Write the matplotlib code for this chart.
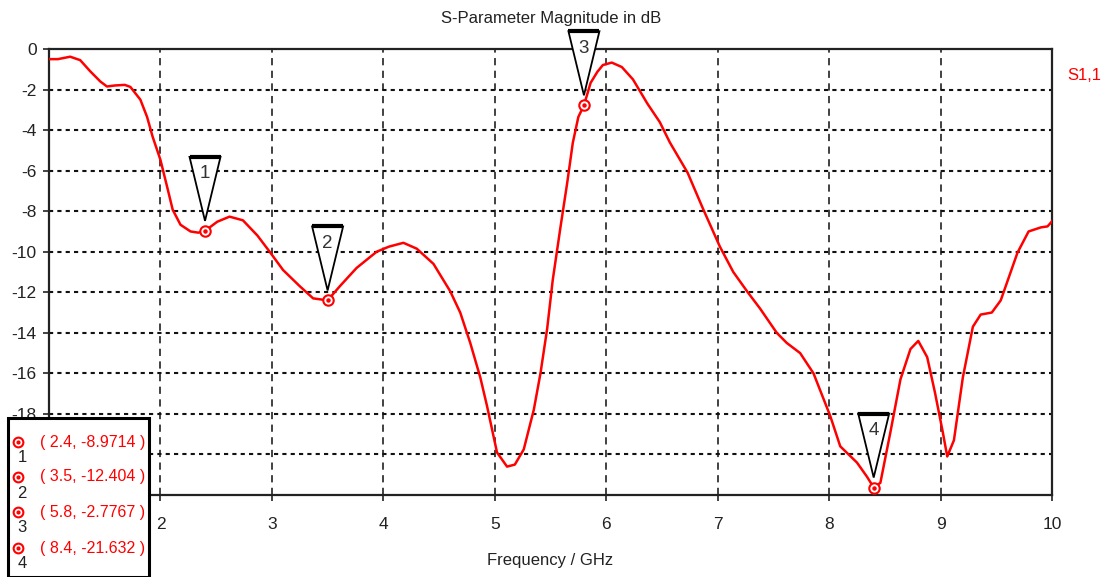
import matplotlib
matplotlib.use("Agg")
import matplotlib.pyplot as plt
from matplotlib.patches import Polygon, Rectangle
from matplotlib.transforms import ScaledTranslation
from matplotlib.lines import Line2D

plt.rcParams['font.family'] = ['Liberation Sans', 'DejaVu Sans']

freq = [1.00, 1.08, 1.19, 1.28, 1.37, 1.46, 1.52, 1.59, 1.68, 1.73, 1.82, 1.88,
        1.93, 2.00, 2.06, 2.11, 2.18, 2.27, 2.34, 2.40, 2.51, 2.62, 2.74, 2.87,
        2.98, 3.10, 3.25, 3.37, 3.50, 3.61, 3.76, 3.94, 4.05, 4.18, 4.30, 4.45,
        4.60, 4.69, 4.78, 4.87, 4.93, 5.02, 5.11, 5.18, 5.26, 5.35, 5.41, 5.47,
        5.52, 5.59, 5.65, 5.70, 5.75, 5.80, 5.86, 5.92, 5.97, 6.05, 6.14, 6.24,
        6.37, 6.48, 6.57, 6.73, 6.87, 7.02, 7.14, 7.27, 7.38, 7.53, 7.62, 7.74,
        7.86, 8.01, 8.10, 8.25, 8.34, 8.40, 8.46, 8.55, 8.64, 8.73, 8.80, 8.88,
        8.95, 9.02, 9.06, 9.12, 9.20, 9.29, 9.36, 9.46, 9.54, 9.69, 9.79, 9.90,
        9.96, 10.00]
s11_db = [-0.50, -0.50, -0.38, -0.55, -1.10, -1.60, -1.85, -1.80, -1.77, -1.87, -2.50, -3.35,
          -4.33, -5.47, -6.80, -7.93, -8.67, -9.00, -9.06, -8.97, -8.52, -8.27, -8.45, -9.20,
          -10.00, -10.90, -11.70, -12.30, -12.40, -11.70, -10.80, -10.00, -9.75, -9.56, -9.85, -10.60,
          -11.95, -13.00, -14.50, -16.20, -17.60, -19.90, -20.60, -20.50, -19.75, -17.80, -16.00, -13.80,
          -11.40, -8.77, -6.60, -4.63, -3.35, -2.78, -1.67, -1.13, -0.79, -0.67, -0.89, -1.50,
          -2.70, -3.60, -4.60, -6.10, -7.90, -9.75, -11.00, -12.00, -12.80, -14.00, -14.50, -15.00,
          -16.00, -18.10, -19.60, -20.40, -21.10, -21.63, -21.40, -18.90, -16.30, -14.80, -14.40, -15.20,
          -16.95, -18.90, -20.10, -19.30, -16.20, -13.70, -13.10, -13.00, -12.40, -10.05, -9.00, -8.80,
          -8.75, -8.50]

marker_ids = ["1", "2", "3", "4"]
marker_f = [2.4, 3.5, 5.8, 8.4]
marker_db = [-8.9714, -12.404, -2.7767, -21.632]
marker_labels = ["( 2.4, -8.9714 )", "( 3.5, -12.404 )", "( 5.8, -2.7767 )", "( 8.4, -21.632 )"]

xticks = [2, 3, 4, 5, 6, 7, 8, 9, 10]
yticks = [0, -2, -4, -6, -8, -10, -12, -14, -16, -18, -20, -22]
# -20 and -22 labels are hidden behind the marker box in the original
ytick_labels = ["0", "-2", "-4", "-6", "-8", "-10", "-12", "-14", "-16", "-18", "", ""]

FS = 12.5
W, H = 1103, 577
fig = plt.figure(figsize=(W / 100, H / 100), dpi=100)
ax = fig.add_axes([49 / W, 1 - 495 / H, (1052 - 49) / W, (495 - 49) / H])

ax.set_xlim(1, 10)
ax.set_ylim(-22, 0)
ax.set_xticks(xticks)
ax.set_yticks(yticks)
ax.set_xticklabels([str(t) for t in xticks])
ax.set_yticklabels(ytick_labels)
ax.tick_params(axis='both', labelsize=FS, length=4, width=1.2, color='#222222',
               direction='out', labelcolor='#222222')
ax.tick_params(axis='x', pad=12)
ax.tick_params(axis='y', pad=5)

for xv in xticks[:-1]:
    ax.axvline(xv, color='#333333', lw=1.3, ls=(0, (4, 3)), zorder=1)
for yv in yticks[1:-1]:
    ax.axhline(yv, color='#111111', lw=1.5, ls=(0, (2, 2)), zorder=1)

for sp in ax.spines.values():
    sp.set_linewidth(1.6)
    sp.set_color('#222222')

ax.plot(freq, s11_db, color='#ff0000', lw=1.8, zorder=3)

# markers
ax.plot(marker_f, marker_db, ls='none', marker='o', ms=7.5, mfc='white', mec='#ff0000', mew=1.5, zorder=4, clip_on=False)
ax.plot(marker_f, marker_db, ls='none', marker='o', ms=2.2, mfc='#ff0000', mec='#ff0000', zorder=5, clip_on=False)

# triangle flags
for mid, fx, fy in zip(marker_ids, marker_f, marker_db):
    tr = fig.dpi_scale_trans + ScaledTranslation(fx, fy, ax.transData)
    px = 1 / 100.0
    tip = (0, 10 * px)
    tl = (-15.5 * px, 74 * px)
    trr = (15.5 * px, 74 * px)
    poly = Polygon([tip, tl, trr], closed=True, facecolor='white', edgecolor='black', lw=1.3,
                   transform=tr, zorder=6, clip_on=False)
    ax.add_patch(poly)
    ax.add_line(Line2D([-15.5 * px, 15.5 * px], [74 * px, 74 * px], color='black', lw=3,
                       transform=tr, zorder=7, clip_on=False, solid_capstyle='butt'))
    ax.text(0, 57 * px, mid, transform=tr, ha='center', va='center', fontsize=FS + 1,
            color='#333333', zorder=8, clip_on=False)

fig.text(551 / W, 1 - 18 / H, "S-Parameter Magnitude in dB", ha='center', va='center', fontsize=12, color='#222222')
fig.text(550 / W, 1 - 561 / H, "Frequency / GHz", ha='center', va='center', fontsize=12, color='#222222')
fig.text(1067 / W, 1 - 75 / H, "S1,1", ha='left', va='center', fontsize=12, color='#ff0000')

# marker legend box
box = Rectangle((8 / W, 0), (149 - 8) / W, (H - 418) / H, transform=fig.transFigure,
                facecolor='white', edgecolor='black', lw=2.2, zorder=20, clip_on=False)
fig.add_artist(box)
row_y = [442, 477, 512, 548]
num_y = [458, 493, 528, 563]
for mid, lab, ry, ny in zip(marker_ids, marker_labels, row_y, num_y):
    fig.add_artist(Line2D([18 / W], [1 - ry / H], transform=fig.transFigure, ls='none', marker='o',
                          ms=7, mfc='white', mec='#ff0000', mew=1.5, zorder=21))
    fig.add_artist(Line2D([18 / W], [1 - ry / H], transform=fig.transFigure, ls='none', marker='o',
                          ms=2, mfc='#ff0000', mec='#ff0000', zorder=22))
    fig.text(40 / W, 1 - ry / H, lab, ha='left', va='center', fontsize=11.5, color='#ff0000', zorder=22)
    fig.text(22 / W, 1 - ny / H, mid, ha='center', va='center', fontsize=12, color='#222222', zorder=22)

fig.savefig("out.png", dpi=100)
